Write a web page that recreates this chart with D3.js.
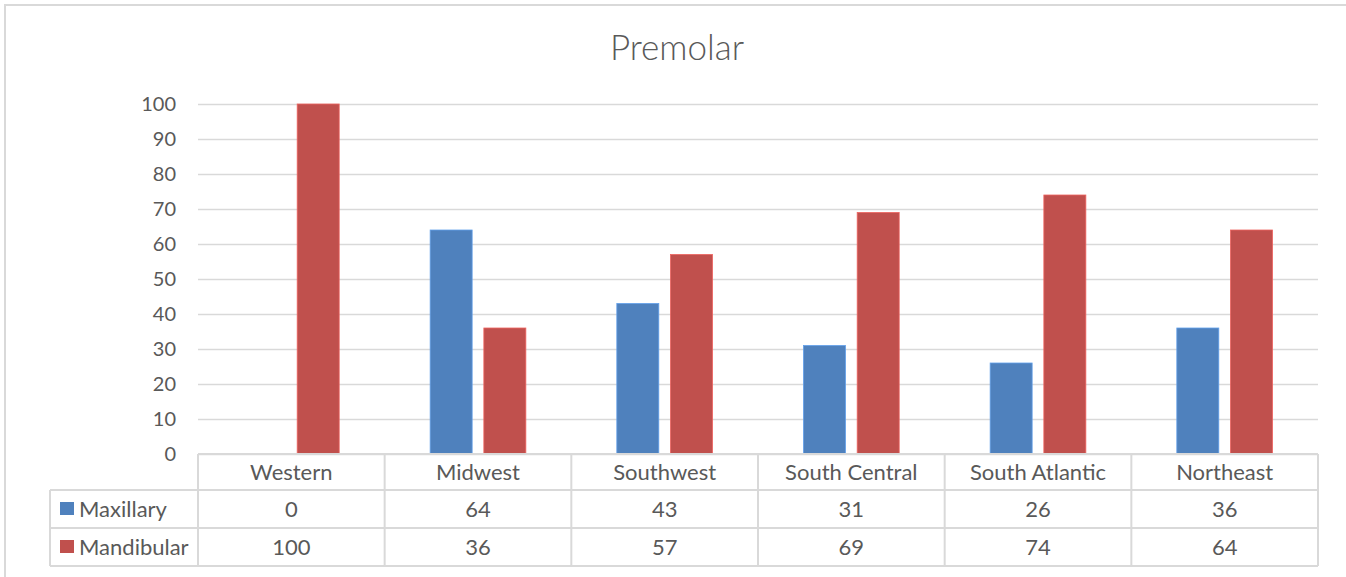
<!DOCTYPE html>
<html>
<head>
<meta charset="utf-8">
<script src="https://cdn.jsdelivr.net/npm/d3@7"></script>
<style>
  html, body { margin: 0; padding: 0; background: #fff; }
  svg { display: block; font-family: Lato, "Open Sans", sans-serif; }
</style>
</head>
<body>
<svg id="chart" width="1346" height="577"></svg>
<script>
// Regions along the category axis
const categories = ["Western", "Midwest", "Southwest", "South Central", "South Atlantic", "Northeast"];
// Series names and their values per region
const seriesNames = ["Maxillary", "Mandibular"];
const maxillary = [0, 64, 43, 31, 26, 36];
const mandibular = [100, 36, 57, 69, 74, 64];
const seriesColors = ["#4F81BD", "#C0504D"];
// Value axis ticks
const yTicks = [0, 10, 20, 30, 40, 50, 60, 70, 80, 90, 100];
const chartTitle = "Premolar";

const seriesValues = [maxillary, mandibular];
const svg = d3.select("#chart");
const textColor = "#595959";
const lineColor = "#D9D9D9";

// Plot area
const plot = { left: 198, right: 1318, top: 104, bottom: 454 };
const rowH = [36, 38, 38]; // header row + one row per series
const tableLeft = 50;

// Chart border
svg.append("path")
  .attr("d", `M5,${577 + 10} L5,5 L${1346 + 10},5`)
  .attr("fill", "none")
  .attr("stroke", lineColor)
  .attr("stroke-width", 2);

// Title
svg.append("text")
  .attr("x", 677)
  .attr("y", 60)
  .attr("text-anchor", "middle")
  .attr("fill", textColor)
  .style("font-size", "35px")
  .style("font-weight", 300)
  .text(chartTitle);

const x0 = d3.scaleBand().domain(categories).range([plot.left, plot.right]).padding(0);
const x1 = d3.scaleBand().domain(seriesNames).range([0, x0.bandwidth()])
  .paddingInner(0.218).paddingOuter(0.847);
const y = d3.scaleLinear().domain([0, 100]).range([plot.bottom, plot.top]);

// Gridlines
svg.append("g")
  .attr("transform", `translate(${plot.left},0)`)
  .call(d3.axisLeft(y).tickValues(yTicks).tickSize(-(plot.right - plot.left)).tickFormat(""))
  .call(g => g.select(".domain").remove())
  .call(g => g.selectAll("line").attr("stroke", lineColor).attr("stroke-width", 1.4));

// Value axis labels
svg.append("g")
  .attr("transform", `translate(${176},0)`)
  .call(d3.axisLeft(y).tickValues(yTicks).tickSize(0).tickPadding(0))
  .call(g => g.select(".domain").remove())
  .call(g => g.selectAll("text")
    .attr("fill", textColor)
    .style("font-size", "20px")
    .style("font-family", "Lato, 'Open Sans', sans-serif"));

// Bars
const groups = svg.append("g").selectAll("g")
  .data(categories)
  .join("g")
  .attr("transform", d => `translate(${x0(d)},0)`);

groups.selectAll("rect")
  .data((c, i) => seriesNames.map((s, k) => ({ series: s, value: seriesValues[k][i], color: seriesColors[k] })))
  .join("rect")
  .attr("x", d => x1(d.series))
  .attr("width", x1.bandwidth())
  .attr("y", d => y(d.value))
  .attr("height", d => y(0) - y(d.value))
  .attr("fill", d => d.color)
  .attr("stroke", d => d3.color(d.color).brighter(0.6))
  .attr("stroke-width", 0.8);

// Data table
const table = svg.append("g");
const rowTop = [plot.bottom, plot.bottom + rowH[0], plot.bottom + rowH[0] + rowH[1]];
const tableBottom = rowTop[2] + rowH[2];

const hLines = [
  { y: plot.bottom, x1: plot.left, x2: plot.right },
  { y: rowTop[1], x1: tableLeft, x2: plot.right },
  { y: rowTop[2], x1: tableLeft, x2: plot.right },
  { y: tableBottom, x1: tableLeft, x2: plot.right }
];
table.selectAll("line.h").data(hLines).join("line")
  .attr("class", "h")
  .attr("x1", d => d.x1).attr("x2", d => d.x2)
  .attr("y1", d => d.y).attr("y2", d => d.y)
  .attr("stroke", lineColor).attr("stroke-width", 2);

const vXs = categories.map(c => x0(c)).concat([plot.right]);
table.selectAll("line.v").data(vXs).join("line")
  .attr("class", "v")
  .attr("x1", d => d).attr("x2", d => d)
  .attr("y1", plot.bottom).attr("y2", tableBottom)
  .attr("stroke", lineColor).attr("stroke-width", 2);
table.append("line")
  .attr("x1", tableLeft).attr("x2", tableLeft)
  .attr("y1", rowTop[1]).attr("y2", tableBottom)
  .attr("stroke", lineColor).attr("stroke-width", 2);

// Category header
table.selectAll("text.cat").data(categories).join("text")
  .attr("class", "cat")
  .attr("x", d => x0(d) + x0.bandwidth() / 2)
  .attr("y", rowTop[0] + rowH[0] / 2 + 8)
  .attr("text-anchor", "middle")
  .attr("fill", textColor)
  .style("font-size", "22px")
  .text(d => d);

// Series rows
seriesNames.forEach((s, k) => {
  const top = rowTop[k + 1];
  const mid = top + rowH[k + 1] / 2;
  table.append("rect")
    .attr("x", 60).attr("y", mid - 7)
    .attr("width", 14).attr("height", 13)
    .attr("fill", seriesColors[k]);
  table.append("text")
    .attr("x", 79).attr("y", mid + 8)
    .attr("fill", textColor)
    .style("font-size", "22px")
    .text(s);
  table.selectAll(`text.v${k}`).data(seriesValues[k]).join("text")
    .attr("class", `v${k}`)
    .attr("x", (d, i) => x0(categories[i]) + x0.bandwidth() / 2)
    .attr("y", mid + 8)
    .attr("text-anchor", "middle")
    .attr("fill", textColor)
    .style("font-size", "22px")
    .text(d => d);
});
</script>
</body>
</html>
